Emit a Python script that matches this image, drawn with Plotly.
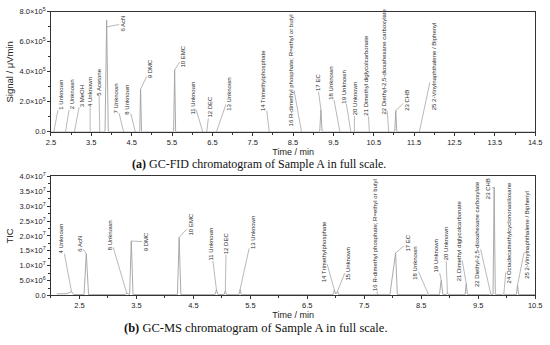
import plotly.graph_objects as go

# ---------------- data ----------------
fid_time = [2.5, 3.84, 3.88, 3.92, 4.70, 4.72, 4.745, 5.54, 5.565, 5.59,
            9.16, 9.19, 9.22, 11.02, 11.045, 11.07, 14.5]
fid_signal = [0, 0, 7.45e5, 0, 0, 2.84e5, 0, 0, 4.13e5, 0,
              0, 1.48e5, 0, 0, 1.42e5, 0, 0]

ms_time = [2.1, 2.28, 2.36, 2.40, 2.58, 2.62, 2.66, 3.30, 3.33, 3.36, 3.38, 3.41, 3.44,
           4.22, 4.25, 4.28, 4.88, 4.905, 4.93, 5.04, 5.06, 5.08, 5.30, 5.32, 5.34,
           6.95, 6.975, 7.0, 7.03, 7.05, 7.95, 8.05, 8.08, 8.60, 8.62, 8.64,
           8.82, 8.85, 8.88, 8.94, 8.96, 8.98, 9.27, 9.29, 9.31, 9.70, 9.72, 9.74,
           9.76, 9.78, 9.80, 9.93, 9.95, 9.97, 10.17, 10.19, 10.21, 10.5]
ms_tic = [5e5, 6e5, 1.3e6, 3e5, 3e5, 1.4e7, 3e5, 3e5, 8e5, 3e5, 3e5, 1.83e7, 3e5,
          3e5, 1.95e7, 3e5, 3e5, 1.9e6, 3e5, 3e5, 1.5e6, 3e5, 3e5, 2.0e6, 3e5,
          3e5, 1.8e6, 5e5, 1.4e6, 3e5, 3e5, 1.43e7, 3e5, 3e5, 6e5, 3e5,
          3e5, 5.1e6, 3e5, 3e5, 9e5, 3e5, 3e5, 4.0e6, 3e5, 3e5, 6e5, 3e5,
          3e5, 3.63e7, 3e5, 3e5, 6e5, 3e5, 3e5, 3.5e6, 3e5, 3e5]

fid_labels = ["1 Unknown", "2 Unknown", "3 MeOH", "4 Unknown", "5 Acetone", "6 AcN",
              "7 Unknown", "8 Unknown", "9 DMC", "10 EMC", "11 Unknown", "12 DEC",
              "13 Unknown", "14 Trimethylphosphate",
              "16 R-dimethyl phosphate; R=ethyl or butyl", "17 EC", "18 Unknown",
              "19 Unknown", "20 Unknown", "21 Dimethyl diglycolcarbonate",
              "22 Diethyl-2,5-dioxahexane carboxylate", "23 CHB",
              "25 2-Vinylnaphthalene / Biphenyl"]
fid_label_time = [2.57, 2.86, 3.08, 3.47, 3.71, 3.89, 4.30, 4.59, 4.72, 5.565, 6.26, 6.36,
                  6.60, 7.91, 8.71, 9.19, 9.66, 9.93, 10.02, 10.39, 10.87, 11.045, 11.63]
fid_label_value = [0, 0, 0, 0, 0, 7.0e5, 0, 0, 2.84e5, 4.13e5, 0, 0, 0, 0, 0, 1.48e5,
                   0, 0, 0, 0, 0, 1.42e5, 0]

ms_labels = ["4 Unknown", "6 AcN", "8 Unknown", "9 DMC", "10 EMC", "11 Unknown", "12 DEC",
             "13 Unknown", "14 Trimethylphosphate", "15 Unknown",
             "16 R-dimethyl phosphate; R=ethyl or butyl", "17 EC", "18 Unknown",
             "19 Unknown", "20 Unknown", "21 Dimethyl diglycolcarbonate",
             "22 Diethyl-2,5-dioxahexane carboxylate", "23 CHB",
             "24 Octadecamethylcyclononasiloxane", "25 2-Vinylnaphthalene / Biphenyl"]
ms_label_time = [2.36, 2.62, 3.33, 3.41, 4.25, 4.905, 5.06, 5.32, 6.975, 7.03, 7.73, 8.05,
                 8.62, 8.85, 8.96, 9.29, 9.72, 9.78, 9.95, 10.19]
ms_label_value = [1.3e6, 1.4e7, 8e5, 1.83e7, 1.95e7, 1.9e6, 1.5e6, 2.0e6, 1.8e6, 1.4e6,
                  3e5, 1.43e7, 6e5, 5.1e6, 9e5, 4.0e6, 6e5, 3.63e7, 6e5, 3.5e6]

fid_yticks = [0, 2e5, 4e5, 6e5, 8e5]
fid_yticktext = ["0.0", "2.0×10<sup>5</sup>", "4.0×10<sup>5</sup>", "6.0×10<sup>5</sup>",
                 "8.0×10<sup>5</sup>"]
ms_yticks = [0, 5e6, 1e7, 1.5e7, 2e7, 2.5e7, 3e7, 3.5e7, 4e7]
ms_yticktext = ["0.0", "5.0×10<sup>6</sup>", "1.0×10<sup>7</sup>", "1.5×10<sup>7</sup>",
                "2.0×10<sup>7</sup>", "2.5×10<sup>7</sup>", "3.0×10<sup>7</sup>",
                "3.5×10<sup>7</sup>", "4.0×10<sup>7</sup>"]

# ---------------- layout helpers (label offsets in px) ----------------
fid_offsets = [(7, -37), (6, -37), (7, -36), (0, -40), (-1, -50), (15.7, -3), (-8, -33),
               (-8, -32.5), (9.5, -20), (8.6, -13.5), (-10, -34), (3, -25), (13, -37.5),
               (-6, -51), (-11, -61), (-3.6, -27), (-9, -49), (-7, -45), (0, -33),
               (-3, -56.5), (-5, -70), (11, -10.5), (14, -66)]
ms_offsets = [(-10, -53.5), (-6.3, -10), (-17, -57.5), (14.2, 0.8), (11.4, -12.5),
              (-5.7, -46), (1, -48), (12.5, -57), (-10.7, -38.5), (10.7, -27), (-3, -60),
              (12, -10), (-13, -30), (-5, -24), (-2, -49), (-7.5, -43), (-13.6, -59.7),
              (-6, 1.6), (5.4, -60.5), (10, -49.7)]

SANS = "Arial, Liberation Sans, sans-serif"
SERIF = "Liberation Serif, Times New Roman, serif"
LINE = "#a0a0a0"

fig = go.Figure()
fig.add_trace(go.Scatter(x=fid_time, y=fid_signal, mode="lines",
                         line=dict(color=LINE, width=0.9), xaxis="x", yaxis="y",
                         showlegend=False, hoverinfo="skip"))
fig.add_trace(go.Scatter(x=ms_time, y=ms_tic, mode="lines",
                         line=dict(color=LINE, width=0.9), xaxis="x2", yaxis="y2",
                         showlegend=False, hoverinfo="skip"))

annotations = []
def add_labels(names, times, values, offsets, xref, yref):
    for n, t, v, (dx, dy) in zip(names, times, values, offsets):
        annotations.append(dict(
            x=t, y=v, xref=xref, yref=yref, text=n, textangle=-90,
            showarrow=True, arrowhead=0, arrowwidth=0.6, arrowcolor="#8a8a8a",
            ax=dx, ay=dy, standoff=0, borderpad=0,
            font=dict(family=SANS, size=6, color="#2a2a2a")))

add_labels(fid_labels, fid_label_time, fid_label_value, fid_offsets, "x", "y")
add_labels(ms_labels, ms_label_time, ms_label_value, ms_offsets, "x2", "y2")

annotations.append(dict(x=260 / 550, y=(345 - 163) / 345, xref="paper", yref="paper",
                        xanchor="center", yanchor="middle",
                        text="<b>(a)</b> GC-FID chromatogram of Sample A in full scale.",
                        showarrow=False, font=dict(family=SERIF, size=12, color="#111")))
annotations.append(dict(x=257 / 550, y=(345 - 333) / 345, xref="paper", yref="paper",
                        xanchor="center", yanchor="middle",
                        text="<b>(b)</b> GC-MS chromatogram of Sample A in full scale.",
                        showarrow=False, font=dict(family=SERIF, size=12.5, color="#111")))

xdom = [47 / 550, 542 / 550]
axis_common = dict(showline=True, linecolor="#333", linewidth=0.8, mirror=True,
                   ticks="outside", ticklen=3, tickwidth=0.8, tickcolor="#333",
                   showgrid=False, zeroline=False,
                   tickfont=dict(family=SANS, size=7.5, color="#222"))

fig.update_layout(
    width=550, height=345, margin=dict(l=0, r=0, t=0, b=0),
    paper_bgcolor="white", plot_bgcolor="white",
    annotations=annotations,
    xaxis=dict(domain=xdom, anchor="y", range=[2.5, 14.5],
               tickvals=[2.5 + i for i in range(13)],
               minor=dict(tickvals=[3.0 + i for i in range(12)], ticks="outside",
                          ticklen=2, tickcolor="#333"),
               title=dict(text="Time / min", font=dict(family=SANS, size=9, color="#222"),
                          standoff=1),
               **axis_common),
    yaxis=dict(domain=[(345 - 130) / 345, (345 - 6) / 345], anchor="x", range=[0, 8e5],
               tickvals=fid_yticks, ticktext=fid_yticktext,
               minor=dict(tickvals=[1e5, 3e5, 5e5, 7e5], ticks="outside", ticklen=2,
                          tickcolor="#333"),
               title=dict(text="Signal / μVmin", font=dict(family=SANS, size=9.5, color="#222"),
                          standoff=4),
               **axis_common),
    xaxis2=dict(domain=xdom, anchor="y2", range=[2.0, 10.5],
                tickvals=[2.5 + i for i in range(9)],
                minor=dict(tickvals=[2.0 + i for i in range(9)], ticks="outside",
                           ticklen=2, tickcolor="#333"),
                title=dict(text="Time / min", font=dict(family=SANS, size=9, color="#222"),
                           standoff=1),
                **axis_common),
    yaxis2=dict(domain=[(345 - 299) / 345, (345 - 176) / 345], anchor="x2", range=[0, 4e7],
                tickvals=ms_yticks, ticktext=ms_yticktext,
                minor=dict(tickvals=[2.5e6 + 5e6 * i for i in range(8)], ticks="outside",
                           ticklen=2, tickcolor="#333"),
                title=dict(text="TIC", font=dict(family=SANS, size=9.5, color="#222"),
                           standoff=4),
                **axis_common),
)

fig.write_html("out.html", config={"displayModeBar": False},
               post_script="document.body.style.margin='0';document.body.style.padding='0';")
